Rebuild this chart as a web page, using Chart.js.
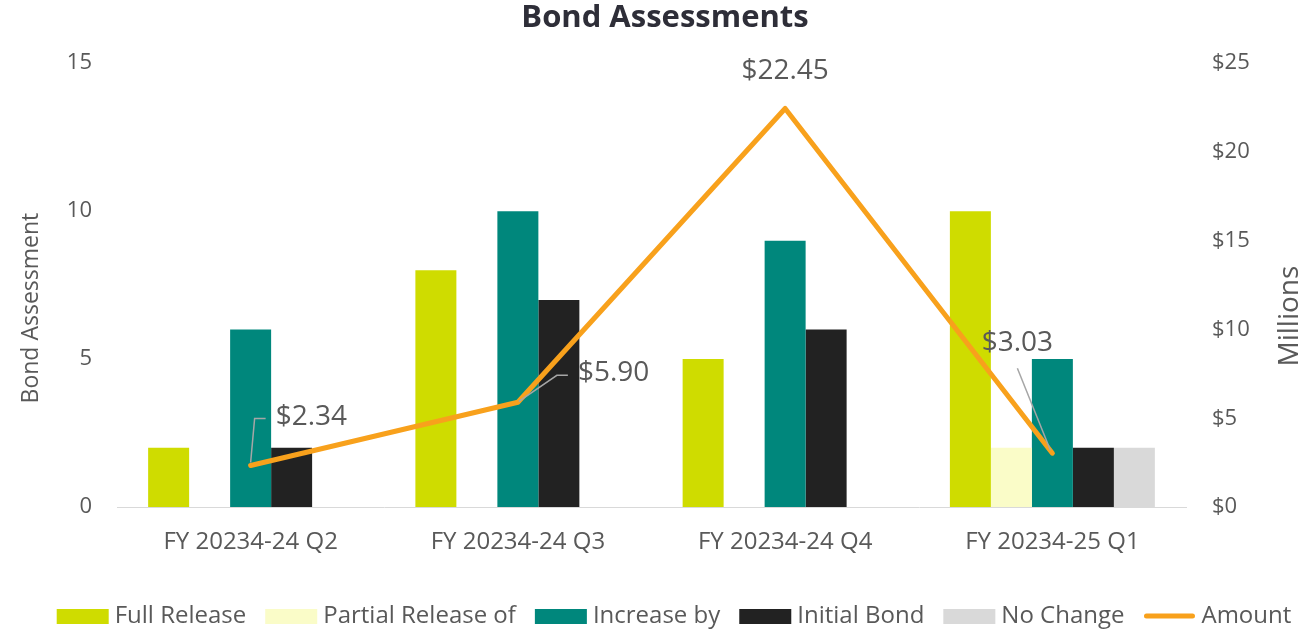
<!DOCTYPE html>
<html>
<head>
<meta charset="utf-8">
<script src="https://cdn.jsdelivr.net/npm/chart.js@4.4.0/dist/chart.umd.min.js"></script>
<style>
  html, body { margin: 0; padding: 0; background: #fff; }
  #wrap { width: 1306px; height: 630px; }
</style>
</head>
<body>
<div id="wrap"><canvas id="bondChart"></canvas></div>
<script>
const quarters = ['FY 20234-24 Q2', 'FY 20234-24 Q3', 'FY 20234-24 Q4', 'FY 20234-25 Q1'];
const fullRelease = [2, 8, 5, 10];
const partialRelease = [0, 0, 0, 2];
const increaseBy = [6, 10, 9, 5];
const initialBond = [2, 7, 6, 2];
const noChange = [0, 0, 0, 2];
const amountMillions = [2.34, 5.90, 22.45, 3.03];
const leftTicks = [0, 5, 10, 15];
const rightTicks = [0, 5, 10, 15, 20, 25];

const textGrey = '#595959';
const orange = '#f8a11c';
const fontFamily = '"Open Sans", "Noto Sans", sans-serif';

// where each amount label sits, relative to its point
const labelSpots = [
  { dx: 25, dy: -48, align: 'left', leader: [[0, -3], [4, -47], [15, -47]] },
  { dx: 60, dy: -29, align: 'left', leader: [[1, -1], [39, -27], [50, -27]] },
  { dx: 0, dy: -37, align: 'center', leader: null },
  { dx: -35, dy: -110, align: 'center', leader: [[-2, -3], [-35, -85]] }
];

const amountLabels = {
  id: 'amountLabels',
  afterDatasetsDraw(chart) {
    const meta = chart.getDatasetMeta(5);
    const ctx = chart.ctx;
    ctx.save();
    meta.data.forEach((pt, i) => {
      const spot = labelSpots[i];
      if (spot.leader) {
        ctx.beginPath();
        ctx.strokeStyle = '#a6a6a6';
        ctx.lineWidth = 1.5;
        spot.leader.forEach((p, j) => {
          if (j === 0) ctx.moveTo(pt.x + p[0], pt.y + p[1]);
          else ctx.lineTo(pt.x + p[0], pt.y + p[1]);
        });
        ctx.stroke();
      }
      ctx.font = '28px ' + fontFamily;
      ctx.fillStyle = textGrey;
      ctx.textAlign = spot.align;
      ctx.textBaseline = 'middle';
      ctx.fillText('$' + amountMillions[i].toFixed(2), pt.x + spot.dx, pt.y + spot.dy);
    });
    ctx.restore();
  }
};

// axis titles sit a bit below the middle, like the original
const axisTitles = {
  id: 'axisTitles',
  afterDraw(chart) {
    const ctx = chart.ctx;
    const a = chart.chartArea;
    const mid = (a.top + a.bottom) / 2;
    ctx.save();
    ctx.fillStyle = textGrey;
    ctx.textAlign = 'center';
    ctx.textBaseline = 'middle';
    ctx.font = '23px ' + fontFamily;
    ctx.translate(31, mid + 23);
    ctx.rotate(-Math.PI / 2);
    ctx.fillText('Bond Assessment', 0, 0);
    ctx.restore();
    ctx.save();
    ctx.fillStyle = textGrey;
    ctx.textAlign = 'center';
    ctx.textBaseline = 'middle';
    ctx.font = '28px ' + fontFamily;
    ctx.translate(1290, mid + 31);
    ctx.rotate(-Math.PI / 2);
    ctx.fillText('Millions', 0, 0);
    ctx.restore();
  }
};

// legend drawn by hand so the spacing matches the Excel one
const bottomLegend = {
  id: 'bottomLegend',
  afterDraw(chart) {
    const ctx = chart.ctx;
    const sets = chart.data.datasets;
    ctx.save();
    ctx.font = '24px ' + fontFamily;
    ctx.textBaseline = 'middle';
    ctx.textAlign = 'left';
    const swatch = 52, gapIn = 6, gapOut = 19;
    const widths = sets.map(ds => swatch + gapIn + ctx.measureText(ds.label).width);
    const total = widths.reduce((s, w) => s + w, 0) + gapOut * (sets.length - 1);
    let x = 674 - total / 2;
    const y = 616;
    sets.forEach((ds, i) => {
      if (ds.type === 'line') {
        ctx.strokeStyle = ds.borderColor;
        ctx.lineWidth = 5;
        ctx.lineCap = 'round';
        ctx.beginPath();
        ctx.moveTo(x + 3, y);
        ctx.lineTo(x + swatch - 3, y);
        ctx.stroke();
      } else {
        ctx.fillStyle = ds.backgroundColor;
        ctx.fillRect(x, y - 7, swatch, 15);
      }
      ctx.fillStyle = textGrey;
      ctx.fillText(ds.label, x + swatch + gapIn, y);
      x += widths[i] + gapOut;
    });
    ctx.restore();
  }
};

new Chart(document.getElementById('bondChart'), {
  type: 'bar',
  data: {
    labels: quarters,
    datasets: [
      { label: 'Full Release', data: fullRelease, backgroundColor: '#cfdc00', yAxisID: 'y', order: 1 },
      { label: 'Partial Release of', data: partialRelease, backgroundColor: '#fafcc8', yAxisID: 'y', order: 1 },
      { label: 'Increase by', data: increaseBy, backgroundColor: '#00877c', yAxisID: 'y', order: 1 },
      { label: 'Initial Bond', data: initialBond, backgroundColor: '#222222', yAxisID: 'y', order: 1 },
      { label: 'No Change', data: noChange, backgroundColor: '#d9d9d9', yAxisID: 'y', order: 1 },
      {
        type: 'line', label: 'Amount', data: amountMillions, yAxisID: 'y1', order: 0,
        borderColor: orange, backgroundColor: orange, borderWidth: 5,
        pointRadius: 0, tension: 0, borderCapStyle: 'round', borderJoinStyle: 'round'
      }
    ]
  },
  options: {
    responsive: true,
    maintainAspectRatio: false,
    animation: false,
    layout: { padding: { left: 24, right: 0, top: 0, bottom: 0 } },
    datasets: { bar: { categoryPercentage: 0.767, barPercentage: 1.0 } },
    plugins: {
      tooltip: { enabled: false },
      legend: { display: false },
      title: {
        display: true,
        text: 'Bond Assessments',
        color: '#2e2e38',
        font: { family: fontFamily, size: 31, weight: 'bold' },
        padding: { top: 0, bottom: 26 }
      }
    },
    scales: {
      x: {
        grid: { display: false },
        border: { display: true, color: '#d9d9d9', width: 1 },
        ticks: { color: textGrey, font: { family: fontFamily, size: 24 }, padding: 13 },
        afterFit(axis) { axis.height = 123; }
      },
      y: {
        position: 'left',
        min: 0, max: 15,
        afterBuildTicks(axis) { axis.ticks = leftTicks.map(v => ({ value: v })); },
        grid: { display: false },
        border: { display: false },
        ticks: { color: textGrey, font: { family: fontFamily, size: 22 }, padding: 17 },
        afterFit(axis) { axis.width = 93; }
      },
      y1: {
        position: 'right',
        min: 0, max: 25,
        afterBuildTicks(axis) { axis.ticks = rightTicks.map(v => ({ value: v })); },
        grid: { display: false },
        border: { display: false },
        ticks: {
          color: textGrey, font: { family: fontFamily, size: 22 }, padding: 18,
          callback: v => '$' + v
        },
        afterFit(axis) { axis.width = 120; }
      }
    }
  },
  plugins: [amountLabels, axisTitles, bottomLegend]
});
</script>
</body>
</html>
